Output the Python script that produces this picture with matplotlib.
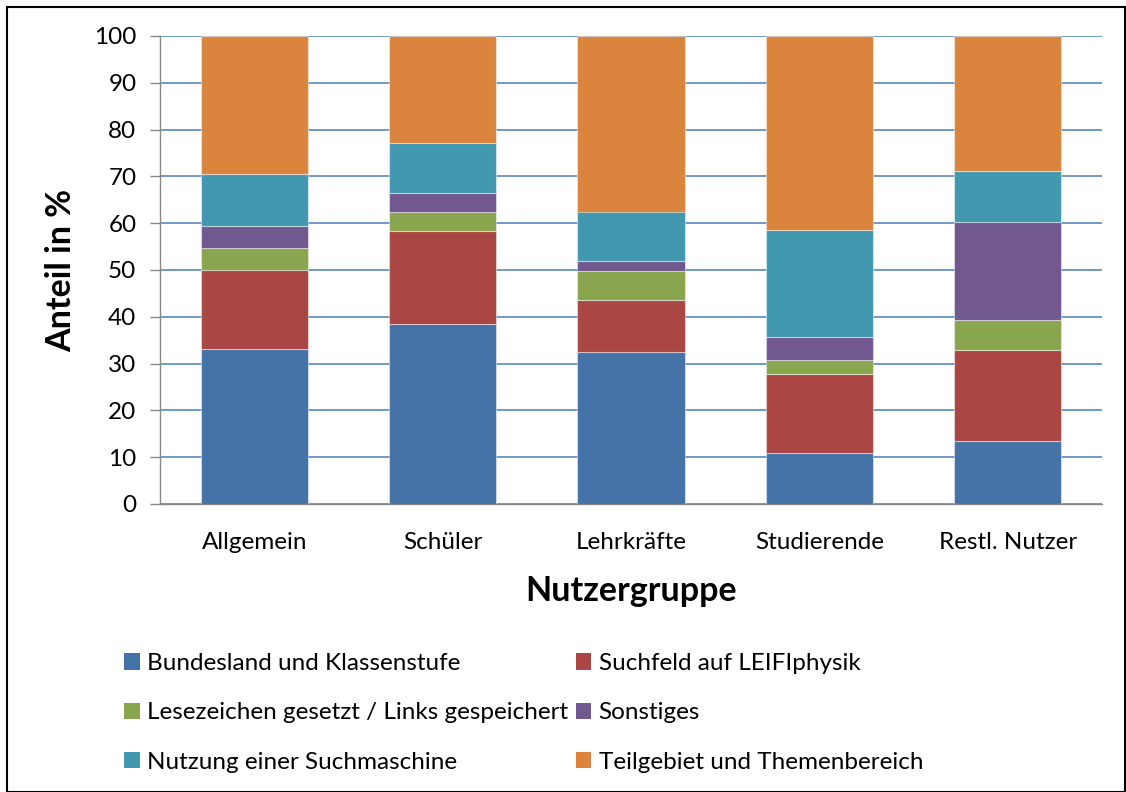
import matplotlib
matplotlib.use("Agg")
import matplotlib.pyplot as plt
import numpy as np
from matplotlib.patches import Rectangle, Patch

plt.rcParams['font.family'] = ['Lato', 'DejaVu Sans']

categories = ["Allgemein", "Schüler", "Lehrkräfte", "Studierende", "Restl. Nutzer"]
series_names = ["Bundesland und Klassenstufe", "Suchfeld auf LEIFIphysik",
                "Lesezeichen gesetzt / Links gespeichert", "Sonstiges",
                "Nutzung einer Suchmaschine", "Teilgebiet und Themenbereich"]
bundesland = [33.2, 38.5, 32.5, 10.9, 13.5]
suchfeld = [16.8, 19.9, 11.0, 16.8, 19.3]
lesezeichen = [4.7, 3.9, 6.2, 3.1, 6.5]
sonstiges = [4.7, 4.2, 2.2, 4.9, 20.9]
suchmaschine = [11.1, 10.6, 10.6, 22.9, 11.0]
teilgebiet = [29.5, 22.9, 37.5, 41.4, 28.8]
yticks = [0, 10, 20, 30, 40, 50, 60, 70, 80, 90, 100]

colors = ["#4572A7", "#AA4643", "#89A54E", "#71588F", "#4198AF", "#DB843D"]
series = [bundesland, suchfeld, lesezeichen, sonstiges, suchmaschine, teilgebiet]

fig = plt.figure(figsize=(11.26, 7.92), dpi=100)
ax = fig.add_axes([160/1126, 1-504/792, (1102-160)/1126, (504-36)/792])

x = np.arange(len(categories))
bottom = np.zeros(len(categories))
for vals, c in zip(series, colors):
    ax.bar(x, vals, bottom=bottom, width=0.57, color=c,
           edgecolor=(1, 1, 1, 0.45), linewidth=0.8, zorder=3)
    bottom += np.array(vals)

ax.set_xlim(-0.5, len(categories) - 0.5)
ax.set_ylim(0, 100)
ax.set_yticks(yticks)
ax.set_yticklabels([str(t) for t in yticks], fontsize=17.5)
ax.set_xticks(x)
ax.set_xticklabels(categories, fontsize=17.5)
ax.yaxis.grid(True, color="#4a7ebb", linewidth=1.1, zorder=0)
ax.set_axisbelow(True)
ax.tick_params(axis='y', length=7, color="#888888", width=1, pad=10)
ax.tick_params(axis='x', length=0, pad=20)
for s in ['top', 'right']:
    ax.spines[s].set_visible(False)
for s in ['left', 'bottom']:
    ax.spines[s].set_color("#888888")
    ax.spines[s].set_linewidth(1)

ax.set_ylabel("Anteil in %", fontsize=24.5, fontweight='bold', labelpad=12)
ax.set_xlabel("Nutzergruppe", fontsize=24.5, fontweight='bold', labelpad=16)

handles = [Patch(facecolor=c, edgecolor='none') for c in colors]
order = [0, 2, 4, 1, 3, 5]
fig.legend([handles[i] for i in order], [series_names[i] for i in order],
           loc='upper left', bbox_to_anchor=(124/1126, 1-653/792), ncol=2,
           frameon=False, fontsize=17.5, handlelength=0.65, handleheight=0.65,
           handletextpad=0.3, labelspacing=1.17, columnspacing=0.3,
           borderaxespad=0, borderpad=0)

fig.patches.append(Rectangle((7/1126, 0), 1-8/1126, 1-7/792, transform=fig.transFigure,
                             fill=False, edgecolor='black', linewidth=1.5))

fig.savefig("out.png", dpi=100)
